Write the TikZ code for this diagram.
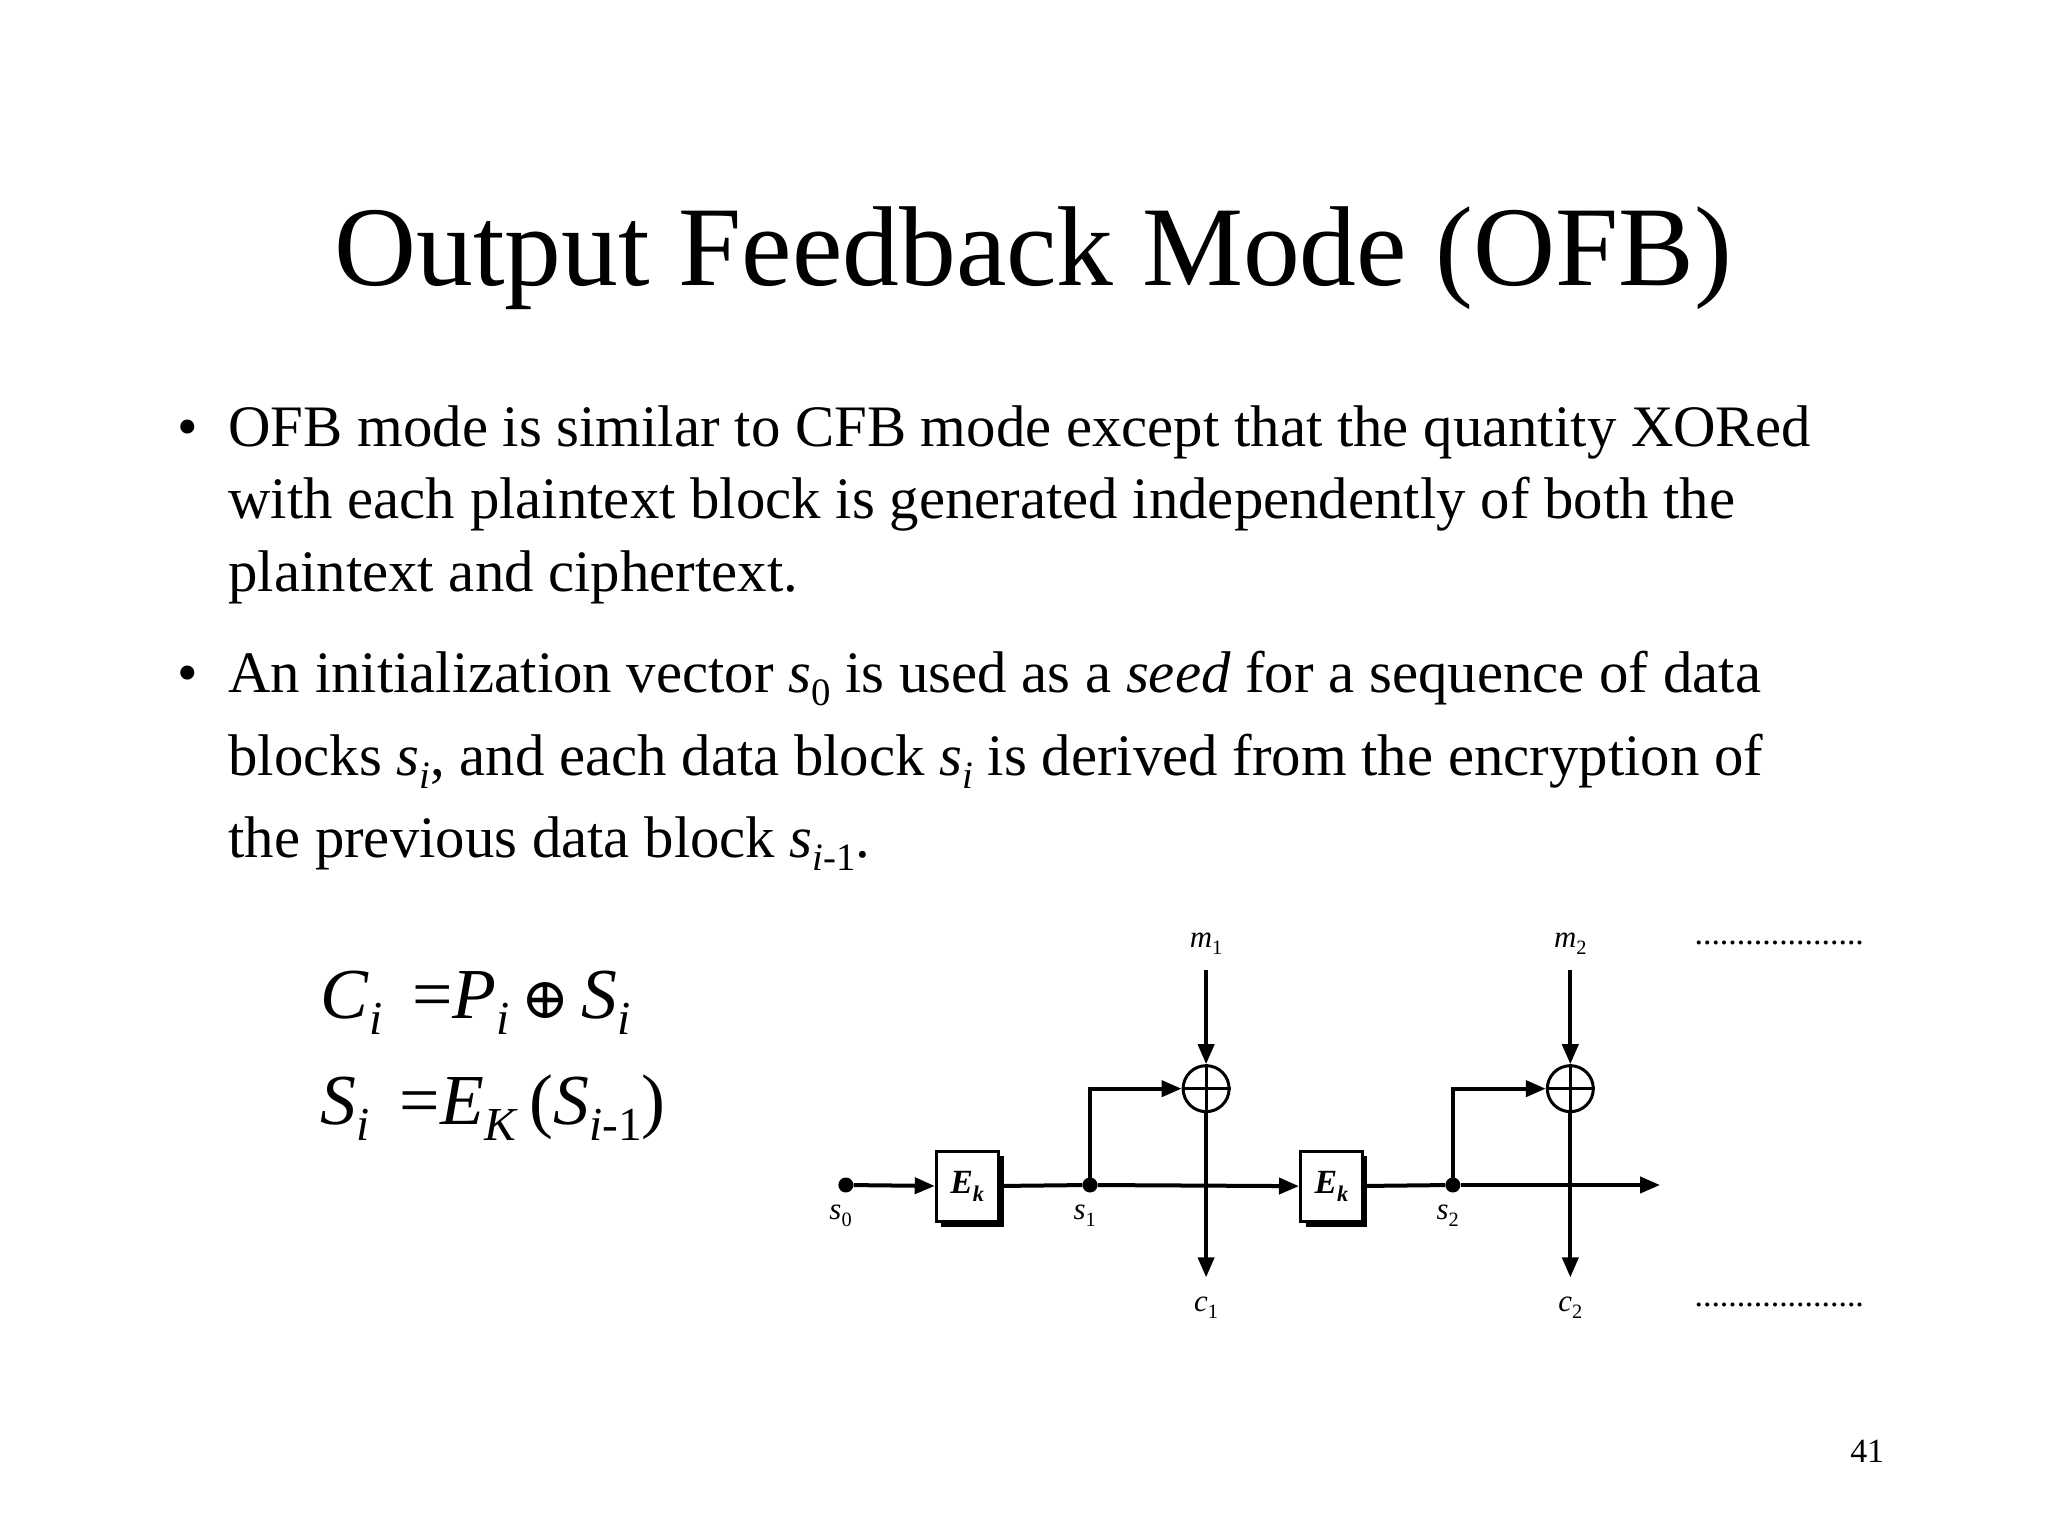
\documentclass[tikz,border=0pt]{standalone}
\usepackage{fontspec}
\setmainfont{Liberation Serif}
\newfontfamily\symf{DejaVu Serif}
\usetikzlibrary{arrows.meta}
\newcommand{\sbx}[1]{\raisebox{-0.22em}{\scalebox{0.66}{#1}}}
\begin{document}
\begin{tikzpicture}[x=1.3196bp,y=-1.3196bp,
  body/.style={anchor=base west,inner sep=0pt,font=\fontsize{59}{66}\selectfont},
  lbl/.style={anchor=base,inner sep=0pt,font=\fontsize{31}{34}\selectfont\itshape},
  eq/.style={anchor=base west,inner sep=0pt,font=\fontsize{72}{80}\selectfont},
  ln/.style={line width=4bp},
  arr/.style={ln,-{Triangle[length=20bp,width=16bp]}},
  dot/.style={circle,fill,inner sep=0pt,minimum size=15bp},
  xor/.style={circle,draw,line width=3bp,minimum size=46bp,inner sep=0pt},
  enc/.style={draw,line width=3bp,fill=white,minimum width=62bp,minimum height=70bp,inner sep=0pt,
     font=\fontsize{34}{34}\selectfont\bfseries\itshape}]
\useasboundingbox (0,0) rectangle (1552,1164);
\node[anchor=base,inner sep=0pt,font=\fontsize{114}{130}\selectfont] (title) at (783,216) {Output Feedback Mode (OFB)};
\node[body,anchor=base] (b1) at (142,338) {•};
\node[body] (l1) at (173,338) {OFB mode is similar to CFB mode except that the quantity XORed};
\node[body] (l2) at (173,393) {with each plaintext block is generated independently of both the};
\node[body] (l3) at (173,448) {plaintext and ciphertext.};
\node[body,anchor=base] (b2) at (142,525) {•};
\node[body] (l4) at (173,525) {An initialization vector \textit{s}\sbx{0} is used as a \textit{seed} for a sequence of data};
\node[body] (l5) at (173,588) {blocks \textit{s\sbx{i}}, and each data block \textit{s\sbx{i}} is derived from the encryption of};
\node[body] (l6) at (173,650) {the previous data block \textit{s\sbx{i}}\sbx{-1}.};
\node[eq] (e1) at (243,772) {\textit{C}\sbx{\textit{i}}\, =\textit{P}\sbx{\textit{i}}\,{\symf\scalebox{0.8}{⊕}}\,\textit{S}\sbx{\textit{i}}};
\node[eq] (e2) at (243,852) {\textit{S}\sbx{\textit{i}}\, =\textit{E}\sbx{\textit{K}}\,(\textit{S}\sbx{\textit{i}-1})};
% diagram
\node[dot] (s0) at (641,898) {};
\fill (737,876) rectangle (761,930);
\fill (713,905) rectangle (761,930);
\node[enc] (E1) at (733,899) {E\sbx{k}};
\node[dot] (s1) at (826,898) {};
\node[xor] (x1) at (914,825) {};
\draw[line width=3bp] (x1.north) -- (x1.south) (x1.west) -- (x1.east);
\fill (1010,876) rectangle (1036,930);
\fill (990,905) rectangle (1036,930);
\node[enc] (E2) at (1009,899) {E\sbx{k}};
\node[dot] (s2) at (1101,898) {};
\node[xor] (x2) at (1190,825) {};
\draw[line width=3bp] (x2.north) -- (x2.south) (x2.west) -- (x2.east);
\coordinate (end) at (1258,898);
\coordinate (m1t) at (914,735);
\coordinate (m2t) at (1190,735);
\coordinate (c1b) at (914,968);
\coordinate (c2b) at (1190,968);
\draw[arr] (s0) -- (E1);
\draw[ln] (E1) -- (s1);
\draw[arr] (s1) -- (E2);
\draw[ln] (E2) -- (s2);
\draw[arr] (s2) -- (end);
\draw[arr] (s1.center) |- (x1.west);
\draw[arr] (s2.center) |- (x2.west);
\draw[arr] (m1t) -- (x1.north);
\draw[arr] (m2t) -- (x2.north);
\draw[arr] (x1.south) -- (c1b);
\draw[arr] (x2.south) -- (c2b);
\node[lbl] (m1) at (914,718) {m\sbx{\upshape 1}};
\node[lbl] (m2) at (1190,718) {m\sbx{\upshape 2}};
\node[lbl] (c1) at (914,994) {c\sbx{\upshape 1}};
\node[lbl] (c2) at (1190,994) {c\sbx{\upshape 2}};
\node[lbl] (ls0) at (637,924) {s\sbx{\upshape 0}};
\node[lbl] (ls1) at (822,924) {s\sbx{\upshape 1}};
\node[lbl] (ls2) at (1097,924) {s\sbx{\upshape 2}};
\node[lbl,anchor=base west,font=\fontsize{34}{34}\selectfont] (d1) at (1284,716) {....................};
\node[lbl,anchor=base west,font=\fontsize{34}{34}\selectfont] (d2) at (1284,990) {....................};
\node[anchor=base,inner sep=0pt,font=\fontsize{34}{40}\selectfont] (pg) at (1415,1108) {41};
\end{tikzpicture}
\end{document}
